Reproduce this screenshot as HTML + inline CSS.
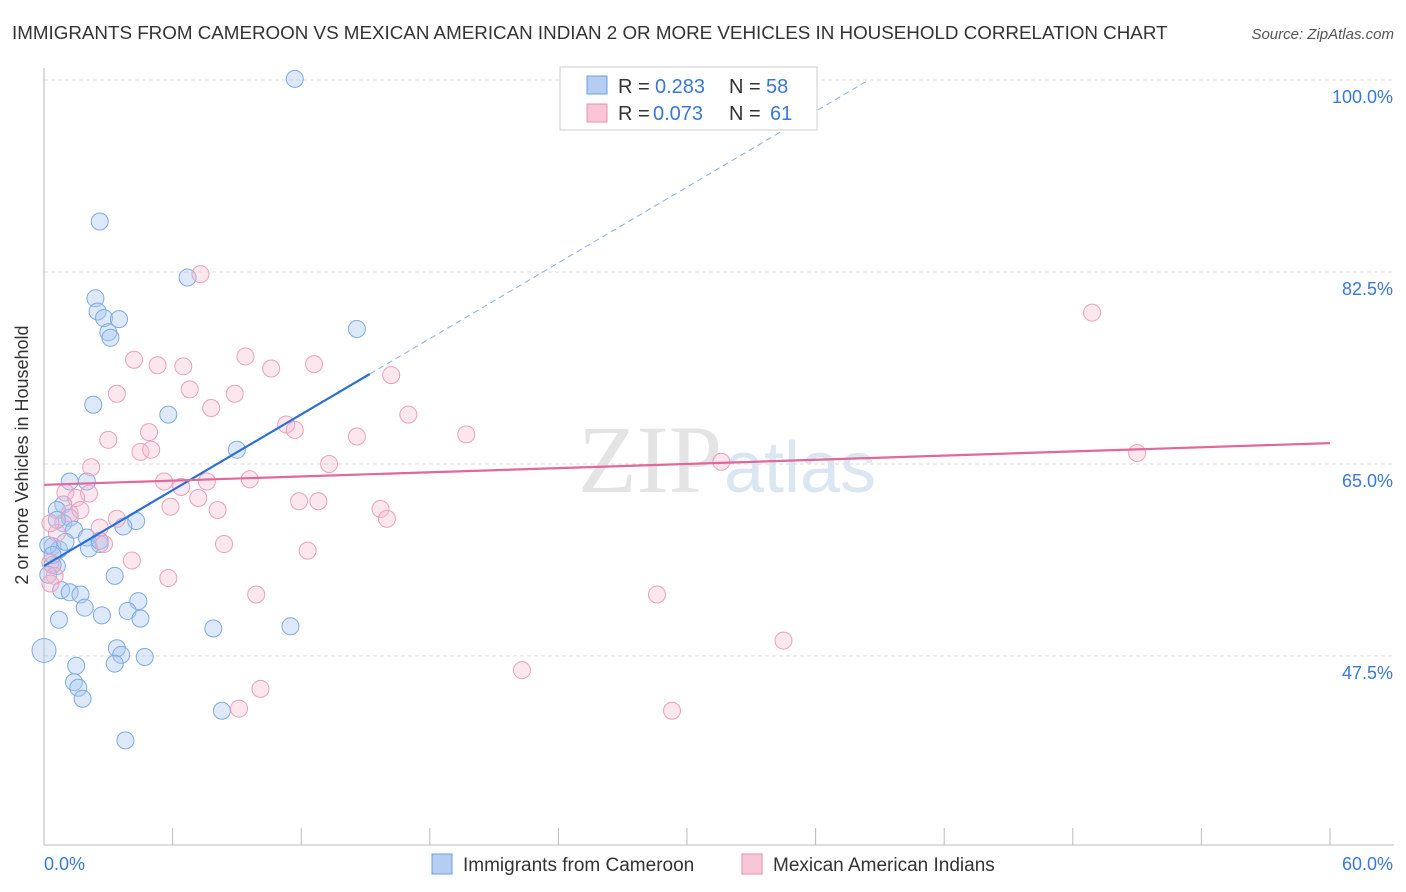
<!DOCTYPE html>
<html><head><meta charset="utf-8"><style>
body{margin:0;background:#fff;font-family:"Liberation Sans",sans-serif;}
#wrap{position:relative;width:1406px;height:892px;overflow:hidden}
</style></head><body>
<div id="wrap">
<svg id="svg" width="1406" height="892" xmlns="http://www.w3.org/2000/svg">
<text x="12" y="39" font-size="18.8" fill="#333">IMMIGRANTS FROM CAMEROON VS MEXICAN AMERICAN INDIAN 2 OR MORE VEHICLES IN HOUSEHOLD CORRELATION CHART</text>
<text x="1394" y="39" font-size="15" fill="#555" font-style="italic" text-anchor="end">Source: ZipAtlas.com</text>
<text x="650" y="492" font-size="96" fill="#e4e4e4" font-family="Liberation Serif,serif" text-anchor="middle">ZIP</text>
<text x="800" y="492" font-size="72" fill="#dbe6f3" text-anchor="middle">atlas</text>
<text x="28" y="455" font-size="18" fill="#333" text-anchor="middle" transform="rotate(-90 28 455)">2 or more Vehicles in Household</text>
<g id="grid"></g><g id="marks"></g>
<g>
<rect x="560" y="67" width="257" height="63" fill="#fff" stroke="#ccc"/>
<rect x="587" y="76" width="20" height="18" fill="#b5cdf0" stroke="#6a9fe0"/>
<rect x="587" y="104" width="20" height="18" fill="#f8c6d6" stroke="#e890b0"/>
<text x="618" y="93" font-size="20" fill="#333">R =</text>
<text x="655" y="93" font-size="20" fill="#3a78d8">0.283</text>
<text x="729" y="93" font-size="20" fill="#333">N =</text>
<text x="766" y="93" font-size="20" fill="#3a78d8">58</text>
<text x="618" y="120" font-size="20" fill="#333">R =</text>
<text x="653" y="120" font-size="20" fill="#3a78d8">0.073</text>
<text x="729" y="120" font-size="20" fill="#333">N =</text>
<text x="770" y="120" font-size="20" fill="#3a78d8">61</text>
</g>
<g>
<rect x="432" y="854" width="20" height="20" fill="#b5cdf0" stroke="#6a9fe0"/>
<text x="463" y="871" font-size="19" fill="#333">Immigrants from Cameroon</text>
<rect x="742" y="854" width="20" height="20" fill="#f8c6d6" stroke="#e890b0"/>
<text x="773" y="871" font-size="19" fill="#333">Mexican American Indians</text>
</g>
</svg>
</div>
<script>
const yTicks=[100,82.5,65,47.5];
const yTickLabels=["100.0%","82.5%","65.0%","47.5%"];
const xTicks=[0,6,12,18,24,30,36,42,48,54,60];
const blueX=[11.7,2.6,6.7,2.4,2.5,2.8,3.5,3.0,3.1,14.6,2.3,5.8,9.0,1.2,2.0,0.9,0.6,1.2,0.9,4.3,3.7,1.4,2.0,2.6,2.1,0.4,0.7,0.2,0.6,0.4,0.2,3.3,0.8,1.2,1.7,4.4,3.9,1.9,2.7,4.5,0.7,7.9,11.5,3.4,3.6,4.7,3.3,0.0,1.5,1.4,1.6,1.8,8.3,3.8,0.4,1.0,0.6,2.6];
const blueY=[100.1,87.1,82.0,80.1,78.9,78.3,78.2,77.0,76.5,77.3,70.4,69.5,66.3,63.4,63.4,61.3,60.8,60.1,59.6,59.8,59.3,59.0,58.3,57.7,57.3,57.5,57.2,57.6,55.7,55.8,54.9,54.8,53.5,53.3,53.1,52.5,51.6,51.9,51.2,50.9,50.8,50.0,50.2,48.2,47.6,47.4,46.8,48.0,46.6,45.1,44.6,43.6,42.5,39.8,56.7,57.9,59.9,58.0];
const pinkX=[7.3,48.9,4.2,9.4,5.3,6.5,10.6,12.6,16.2,3.4,6.8,8.9,7.8,17.0,11.3,11.7,4.9,3.0,14.6,19.7,4.5,5.0,2.2,13.3,51.0,31.6,9.6,5.6,6.4,7.6,1.0,2.1,1.5,11.9,12.8,7.2,5.9,15.7,8.1,1.7,16.0,3.4,2.6,0.6,2.8,12.3,8.4,4.1,0.3,0.5,5.8,0.3,9.9,28.6,34.5,22.3,10.1,29.3,9.1,0.3,1.2];
const pinkY=[82.3,78.8,74.5,74.8,74.0,73.9,73.7,74.1,73.1,71.4,71.8,71.4,70.1,69.5,68.6,68.1,67.9,67.2,67.5,67.7,66.1,66.3,64.7,65.0,66.0,65.2,63.6,63.4,62.9,63.4,62.4,62.3,61.9,61.6,61.6,61.9,61.1,60.9,60.8,60.8,60.0,60.0,59.2,58.7,57.7,57.1,57.7,56.2,56.0,54.8,54.6,54.1,53.1,53.1,48.9,46.2,44.5,42.5,42.7,59.6,60.5];
const blueTrend=[55.7,73.2];
const blueTrendX=[0,15.2];
const pinkTrend=[63.1,66.9];
const X0=44,X1=1330,Y100=80,PPY=10.97;
function sx(v){return X0+(X1-X0)*v/60;}
function sy(v){return Y100+(100-v)*PPY;}
const NS="http://www.w3.org/2000/svg";
function mk(tag,attrs,parent){const e=document.createElementNS(NS,tag);for(const k in attrs)e.setAttribute(k,attrs[k]);parent.appendChild(e);return e;}
const grid=document.getElementById('grid'),marks=document.getElementById('marks');
yTicks.forEach((t,i)=>{
  const g=mk('line',{x1:X0,x2:1394,y1:sy(t),y2:sy(t),stroke:'#ddd','stroke-dasharray':'4 3'},grid);
  
  
  const tx=mk('text',{x:1393,y:sy(t)+23,'font-size':18,fill:'#3a78d8','text-anchor':'end'},grid);
  tx.textContent=yTickLabels[i];
  
  
});
const ax=mk('line',{x1:X0,x2:X0,y1:68,y2:845,stroke:'#bbb'},grid);


const bx=mk('line',{x1:X0,x2:1394,y1:845,y2:845,stroke:'#bbb'},grid);


xTicks.forEach(t=>{const l=mk('line',{x1:sx(t),x2:sx(t),y1:828,y2:845,stroke:'#bbb'},grid);
  
  });
const xl0=mk('text',{x:X0,y:870,'font-size':18,fill:'#3a78d8'},grid);xl0.textContent='0.0%';


const xl1=mk('text',{x:1393,y:870,'font-size':18,fill:'#3a78d8','text-anchor':'end'},grid);xl1.textContent='60.0%';


function pts(xs,ys,fill,stroke,name){xs.forEach((x,i)=>{
  const c=mk('circle',{cx:sx(x),cy:sy(ys[i]),r:(x===0?12:8.5),fill:fill,stroke:stroke,'stroke-width':1},marks);
  
  });}
pts(blueX,blueY,'rgba(170,200,240,0.4)','#7eaae4','cameroon-point');
pts(pinkX,pinkY,'rgba(245,185,205,0.35)','#eca0bc','mexican-american-indian-point');
const slope=(blueTrend[1]-blueTrend[0])/(blueTrendX[1]-blueTrendX[0]);
const xEnd=blueTrendX[0]+(100-blueTrend[0])/slope;
const d=mk('line',{x1:sx(blueTrendX[1]),y1:sy(blueTrend[1]),x2:sx(xEnd),y2:sy(100),stroke:'#8ab0e0','stroke-width':1,'stroke-dasharray':'6 4'},marks);


const bl=mk('line',{x1:sx(blueTrendX[0]),y1:sy(blueTrend[0]),x2:sx(blueTrendX[1]),y2:sy(blueTrend[1]),stroke:'#2a6fd6','stroke-width':2.2},marks);


const pl=mk('line',{x1:sx(0),y1:sy(pinkTrend[0]),x2:sx(60),y2:sy(pinkTrend[1]),stroke:'#e2679a','stroke-width':2.2},marks);


</script>
</body></html>
